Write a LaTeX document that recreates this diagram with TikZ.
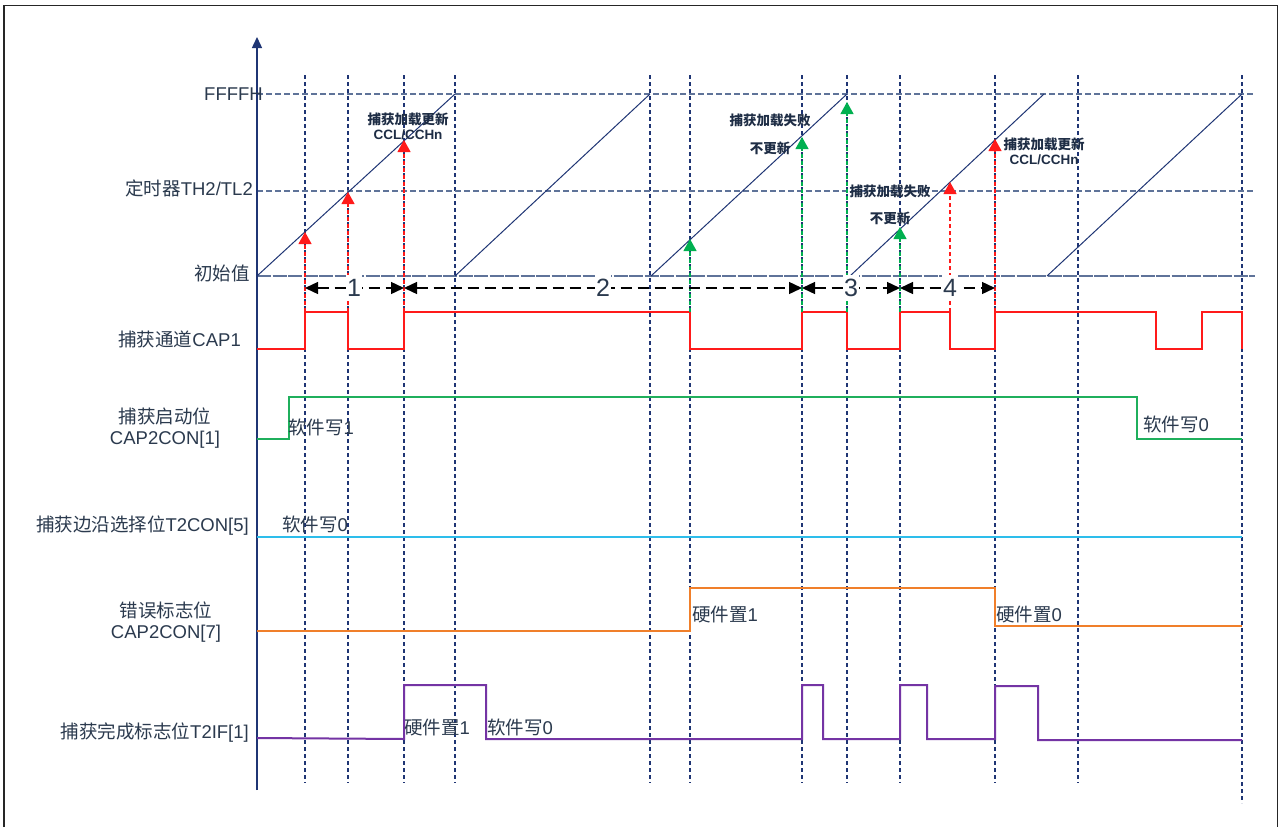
\documentclass[tikz,border=0pt]{standalone}
\usepackage{fontspec}
\setmainfont{Liberation Sans}
\newfontfamily\cjk{Noto Sans CJK SC}
\usetikzlibrary{arrows.meta}
\definecolor{txt}{HTML}{2B3A4E}
\definecolor{anno}{HTML}{1E2D45}
\definecolor{navy}{HTML}{1F3574}
\definecolor{lvl}{HTML}{5F7399}
\definecolor{sred}{HTML}{FF1A1A}
\definecolor{agrn}{HTML}{00B050}
\definecolor{sgrn}{HTML}{1FAF5C}
\definecolor{scyan}{HTML}{2DBDEB}
\definecolor{sorange}{HTML}{F07F2A}
\definecolor{spurple}{HTML}{7434A4}
\newcommand\zh[1]{{\cjk #1}}
\tikzset{
  lbl/.style={font=\fontsize{18.5}{21}\selectfont, text=txt, inner sep=0pt, text height=13pt, text depth=0pt},
  lbltwo/.style={font=\fontsize{18.5}{21}\selectfont, text=txt, inner sep=0pt, align=center},
  annot/.style={font=\bfseries\fontsize{13.5}{15}\selectfont, text=anno, inner sep=0pt, align=center},
  numlbl/.style={font=\fontsize{25}{27}\selectfont, text=txt, fill=white, inner sep=1.5pt, minimum height=26pt},
  gridv/.style={navy, line width=1.1pt, dash pattern=on 4pt off 3pt},
  level/.style={lvl, line width=1.4pt, dash pattern=on 6pt off 3pt},
  base/.style={lvl, line width=1.5pt, dash pattern=on 14pt off 1.5pt},
  ramp/.style={navy, line width=1pt},
  redarr/.style={sred, line width=1.1pt, dash pattern=on 4pt off 3pt, -{Triangle[length=12pt,width=13pt]}},
  grnarr/.style={agrn, line width=1.1pt, dash pattern=on 4pt off 3pt, -{Triangle[length=12pt,width=13pt]}},
  dim/.style={black, line width=1.4pt, dash pattern=on 11pt off 6pt, {Triangle[length=13pt,width=12pt]}-{Triangle[length=13pt,width=12pt]}},
  sig/.style={line width=2pt, line join=miter},
}
\begin{document}
\begin{tikzpicture}[x=1pt,y=-1pt]
\useasboundingbox (0,0) rectangle (1279,827);
\fill[white] (0,0) rectangle (1279,827);
% frame
\draw[black!85, line width=1.5pt] (4,827) -- (4,5.5) -- (1277.5,5.5) -- (1277.5,827);
% vertical grid lines
\foreach \x/\n in {305/a,348/b,404/c,455/d,650/e,690/f,802/g,847/h,900/i,995/j,1078/k}{
  \coordinate (g\n t) at (\x,75);
  \coordinate (g\n b) at (\x,783);
  \draw[gridv] (g\n t) -- (g\n b);
}
\coordinate (glt) at (1242,75);
\coordinate (glb) at (1242,803);
\draw[gridv] (glt) -- (glb);
% level lines
\coordinate (ffA) at (257,94);  \coordinate (ffB) at (1255,94);
\coordinate (thA) at (257,191); \coordinate (thB) at (1255,191);
\coordinate (inA) at (257,276); \coordinate (inB) at (1255,276);
\draw[level] (ffA) -- (ffB);
\draw[level] (thA) -- (thB);
\draw[base] (inA) -- (inB);
% axis
\coordinate (axB) at (257,790);
\coordinate (axT) at (257,37);
\draw[navy, line width=1.4pt, -{Triangle[length=11pt,width=10pt]}] (axB) -- (axT);
% ramps
\coordinate (r1a) at (257,276); \coordinate (r1b) at (455,94);
\coordinate (r2a) at (455,276); \coordinate (r2b) at (650,94);
\coordinate (r3a) at (651,276); \coordinate (r3b) at (847,94);
\coordinate (r4a) at (850,276); \coordinate (r4b) at (1044,94);
\coordinate (r5a) at (1047,276); \coordinate (r5b) at (1242,94);
\foreach \r in {1,...,5}{\draw[ramp] (r\r a) -- (r\r b);}
% axis labels
\node[lbl, anchor=east] (lff) at (263,94) {FFFFH};
\node[lbl, anchor=east] (lth) at (253,189) {\zh{定时器}TH2/TL2};
\node[lbl, anchor=east] (lin) at (250,274) {\zh{初始值}};
\node[lbl, anchor=east] (lcap) at (241,340) {\zh{捕获通道}CAP1};
\node[lbltwo] (lstart) at (165,428) {\zh{捕获启动位}\\CAP2CON[1]};
\node[lbl, anchor=east] (ledge) at (249,525) {\zh{捕获边沿选择位}T2CON[5]};
\node[lbltwo] (lerr) at (166,622) {\zh{错误标志位}\\CAP2CON[7]};
\node[lbl, anchor=east] (ldone) at (249,732) {\zh{捕获完成标志位}T2IF[1]};
% signals
\draw[sig, sred] (257,349)--(305,349)--(305,312)--(348,312)--(348,349)--(404,349)--(404,312)--(690,312)--(690,349)--(802,349)--(802,312)--(847,312)--(847,349)--(900,349)--(900,312)--(950,312)--(950,349)--(995,349)--(995,312)--(1156,312)--(1156,349)--(1202,349)--(1202,312)--(1242,312)--(1242,349);
\draw[sig, sgrn] (257,439)--(289,439)--(289,397)--(1137,397)--(1137,439)--(1242,439);
\draw[sig, scyan, line width=2.4pt] (257,537)--(1242,537);
\draw[sig, sorange] (257,631)--(690,631)--(690,588)--(995,588)--(995,626)--(1242,626);
\draw[sig, spurple] (257,738)--(404,739)--(404,685)--(486,685)--(486,739)--(802,739)--(802,685)--(823,685)--(823,739)--(900,739)--(900,685)--(927,685)--(927,739)--(995,739)--(995,686)--(1038,686)--(1038,740)--(1242,740);
% signal labels
\node[lbl, anchor=west] (s1) at (288,428) {\zh{软件写}1};
\node[lbl, anchor=west] (s2) at (1143,425) {\zh{软件写}0};
\node[lbl, anchor=west] (s3) at (282,525) {\zh{软件写}0};
\node[lbl, anchor=west] (s4) at (692,615) {\zh{硬件置}1};
\node[lbl, anchor=west] (s5) at (996,615) {\zh{硬件置}0};
\node[lbl, anchor=west] (s6) at (404,728) {\zh{硬件置}1};
\node[lbl, anchor=west] (s7) at (487,728) {\zh{软件写}0};
% capture arrows
\coordinate (ca1) at (305,312); \coordinate (ct1) at (305,232);
\coordinate (ca2) at (348,312); \coordinate (ct2) at (348,192);
\coordinate (ca3) at (404,312); \coordinate (ct3) at (404,140);
\coordinate (ca4) at (690,312); \coordinate (ct4) at (690,239);
\coordinate (ca5) at (802,312); \coordinate (ct5) at (802,137);
\coordinate (ca6) at (847,312); \coordinate (ct6) at (847,102);
\coordinate (ca7) at (900,312); \coordinate (ct7) at (900,227);
\coordinate (ca8) at (950,312); \coordinate (ct8) at (950,182);
\coordinate (ca9) at (995,312); \coordinate (ct9) at (995,139);
\draw[redarr] (ca1) -- (ct1);
\draw[redarr] (ca2) -- (ct2);
\draw[redarr] (ca3) -- (ct3);
\draw[grnarr] (ca4) -- (ct4);
\draw[grnarr] (ca5) -- (ct5);
\draw[grnarr] (ca6) -- (ct6);
\draw[grnarr] (ca7) -- (ct7);
\draw[redarr] (ca8) -- (ct8);
\draw[redarr] (ca9) -- (ct9);
% annotations
\node[annot] (an1) at (408,126) {\zh{捕获加载更新}\\CCL/CCHn};
\node[annot] (an2) at (770,120) {\zh{捕获加载失败}};
\node[annot] (an3) at (770,148) {\zh{不更新}};
\node[annot] (an4) at (890,191) {\zh{捕获加载失败}};
\node[annot] (an5) at (890,218) {\zh{不更新}};
\node[annot] (an6) at (1044,151) {\zh{捕获加载更新}\\CCL/CCHn};
% dimension arrows
\coordinate (d1a) at (305,288); \coordinate (d1b) at (404,288);
\coordinate (d2a) at (404,288); \coordinate (d2b) at (802,288);
\coordinate (d3a) at (802,288); \coordinate (d3b) at (900,288);
\coordinate (d4a) at (900,288); \coordinate (d4b) at (995,288);
\draw[dim] (d1a) -- (d1b);
\draw[dim] (d2a) -- (d2b);
\draw[dim] (d3a) -- (d3b);
\draw[dim] (d4a) -- (d4b);
\node[numlbl] (n1) at (354,288) {1};
\node[numlbl] (n2) at (603,288) {2};
\node[numlbl] (n3) at (851,288) {3};
\node[numlbl] (n4) at (950,288) {4};
\end{tikzpicture}
\end{document}
